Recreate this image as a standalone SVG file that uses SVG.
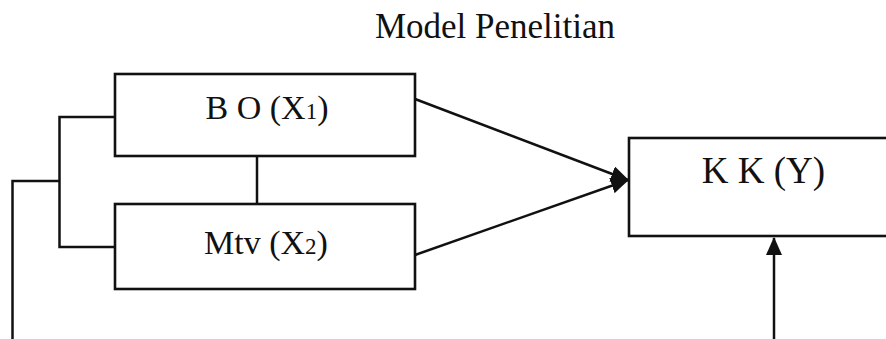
<svg xmlns="http://www.w3.org/2000/svg" width="886" height="339" viewBox="0 0 886 339">
<style>
text{font-family:"Liberation Serif","Times New Roman",serif;fill:#111}
.box{fill:#fff;stroke:#111;stroke-width:2.6}
.ln{fill:none;stroke:#111;stroke-width:2.5}
.sub{font-size:23px}
</style>
<defs>
<marker id="ah" viewBox="0 0 18 16" refX="17" refY="8" markerWidth="18" markerHeight="16" orient="auto" markerUnits="userSpaceOnUse">
<path d="M0,0 L18,8 L0,16 z" fill="#111"/>
</marker>
</defs>
<rect width="886" height="339" fill="#fff"/>
<text x="495" y="38" font-size="35" text-anchor="middle">Model Penelitian</text>
<g id="connectors">
<path class="ln" d="M257,156 V204"/>
<path class="ln" d="M115,117 H59.5 V247 H115"/>
<path class="ln" d="M59.5,181 H12.5 V339"/>
<path class="ln" d="M415,99 L628,180" marker-end="url(#ah)"/>
<path class="ln" d="M415,255 L628,180" marker-end="url(#ah)"/>
<path class="ln" d="M774,339 V238" marker-end="url(#ah)"/>
</g>
<g id="bo">
<rect class="box" x="115" y="74" width="300" height="82"/>
<text x="267" y="119" font-size="34" text-anchor="middle">B O (X<tspan class="sub">1</tspan>)</text>
</g>
<g id="mtv">
<rect class="box" x="115" y="204" width="300" height="85"/>
<text x="266" y="254" font-size="34" text-anchor="middle">Mtv (X<tspan class="sub">2</tspan>)</text>
</g>
<g id="kk">
<rect class="box" x="629" y="138" width="270" height="98"/>
<text x="763.5" y="183" font-size="37" text-anchor="middle">K K (Y)</text>
</g>
</svg>
